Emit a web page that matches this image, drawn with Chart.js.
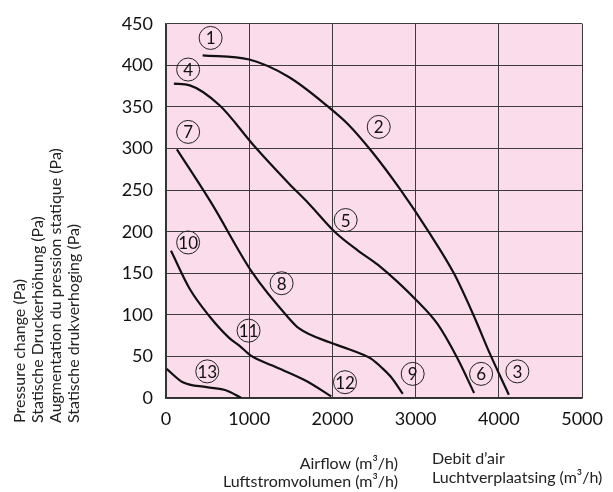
<!DOCTYPE html>
<html>
<head>
<meta charset="utf-8">
<script src="https://cdn.jsdelivr.net/npm/chart.js@4"></script>
<style>
  body { margin: 0; background: #fff; }
  #wrap { width: 613px; height: 492px; }
</style>
</head>
<body>
<div id="wrap"><canvas id="myChart" width="613" height="492"></canvas></div>
<script>
// curve data: [airflow m3/h, pressure Pa]
var curve123 = [[440,412],[1000,407],[1476,386],[1952,350],[2190,329],[2468,297],[2806,252],[3155,200],[3464,149],[3702,98],[3893,53],[4119,4]];
var curve456 = [[95,378],[286,376],[643,352],[1060,303],[1476,258],[1714,234],[2036,199],[2310,177],[2548,160],[3024,116],[3262,89],[3500,48],[3702,6]];
var curve789 = [[131,299],[548,234],[1036,151],[1476,96],[1595,84],[1964,67],[2190,59],[2349,53],[2468,47],[2587,37],[2706,25],[2845,5]];
var curve101112 = [[60,177],[286,131],[524,98],[762,72],[881,63],[1020,51],[1278,39],[1675,21],[1985,2]];
var curve13 = [[8,35],[202,19],[488,13],[726,9],[905,0]];

// circled curve numbers
var labelNums = [1, 2, 3, 4, 5, 6, 7, 8, 9, 10, 11, 12, 13];
var labelX = [536, 2556, 4222, 266, 2159, 3786, 266, 1389, 2964, 266, 992, 2151, 496];
var labelY = [433, 326, 32, 395, 214, 29, 320, 138, 29, 187, 81, 19, 32];

var xTicks = [0, 1000, 2000, 3000, 4000, 5000];
var yTicks = [0, 50, 100, 150, 200, 250, 300, 350, 400, 450];

var yTitle = ['Pressure change (Pa)', 'Statische Druckerhöhung (Pa)', 'Augmentation du pression statique (Pa)', 'Statische drukverhoging (Pa)'];
var xTitleLeft = ['Airflow (m³/h)', 'Luftstromvolumen (m³/h)'];
var xTitleRight = ['Debit d\u2019air', 'Luchtverplaatsing (m³/h)'];

function toPoints(arr) {
    return arr.map(function (p) { return { x: p[0], y: p[1] }; });
}

var curves = [curve123, curve456, curve789, curve101112, curve13];

var pinkArea = {
    id: 'pinkArea',
    beforeDraw: function (chart) {
        var a = chart.chartArea, c = chart.ctx;
        c.save();
        c.fillStyle = '#fbdcea';
        c.fillRect(a.left, a.top, a.right - a.left, a.bottom - a.top);
        c.restore();
    }
};

var circledLabels = {
    id: 'circledLabels',
    afterDatasetsDraw: function (chart) {
        var c = chart.ctx, xs = chart.scales.x, ys = chart.scales.y;
        c.save();
        for (var i = 0; i < labelNums.length; i++) {
            var px = xs.getPixelForValue(labelX[i]);
            var py = ys.getPixelForValue(labelY[i]);
            c.beginPath();
            c.arc(px, py, 11.5, 0, Math.PI * 2);
            c.lineWidth = 1;
            c.strokeStyle = '#222';
            c.stroke();
            c.fillStyle = '#111';
            c.font = '17px Lato';
            c.textAlign = 'center';
            c.textBaseline = 'middle';
            c.fillText(String(labelNums[i]), px, py + 1);
        }
        c.restore();
    }
};

var axisTitles = {
    id: 'axisTitles',
    afterDraw: function (chart) {
        var c = chart.ctx;
        c.save();
        c.fillStyle = '#222';
        c.font = '16px Lato';
        c.textBaseline = 'middle';
        // rotated y title, starting at the bottom
        for (var i = 0; i < yTitle.length; i++) {
            c.save();
            c.translate(20 + i * 18, 423);
            c.rotate(-Math.PI / 2);
            c.textAlign = 'left';
            c.fillText(yTitle[i], 0, 0);
            c.restore();
        }
        c.textAlign = 'right';
        c.fillText(xTitleLeft[0], 398, 464);
        c.fillText(xTitleLeft[1], 398, 482);
        c.textAlign = 'left';
        c.fillText(xTitleRight[0], 432, 459);
        c.fillText(xTitleRight[1], 432, 478);
        c.restore();
    }
};

var ctx = document.getElementById('myChart').getContext('2d');
var chart = new Chart(ctx, {
    type: 'scatter',
    data: {
        datasets: curves.map(function (cv) {
            return {
                data: toPoints(cv),
                showLine: true,
                borderColor: '#111',
                borderWidth: 2.2,
                pointRadius: 0,
                cubicInterpolationMode: 'monotone',
                fill: false
            };
        })
    },
    options: {
        responsive: false,
        animation: false,
        layout: { padding: { top: 17, right: 26, left: 0, bottom: 0 } },
        plugins: { legend: { display: false }, tooltip: { enabled: false } },
        scales: {
            x: {
                type: 'linear',
                min: 0, max: 5000,
                afterBuildTicks: function (ax) { ax.ticks = xTicks.map(function (v) { return { value: v }; }); },
                afterFit: function (ax) { ax.height = 94; },
                grid: { color: '#3c3c3c', lineWidth: 1, drawTicks: false },
                border: { color: '#333', width: 1.5 },
                ticks: {
                    padding: 10, color: '#111', font: { family: 'Lato', size: 18 }, maxRotation: 0,
                    callback: function (v) { return String(v); }
                }
            },
            y: {
                type: 'linear',
                min: 0, max: 450,
                afterBuildTicks: function (ax) { ax.ticks = yTicks.map(function (v) { return { value: v }; }); },
                afterFit: function (ax) { ax.width = 166; },
                grid: { color: '#3c3c3c', lineWidth: 1, drawTicks: false },
                border: { color: '#333', width: 1.5 },
                ticks: { padding: 13, color: '#111', font: { family: 'Lato', size: 18 } }
            }
        }
    },
    plugins: [pinkArea, circledLabels, axisTitles]
});
</script>
</body>
</html>
